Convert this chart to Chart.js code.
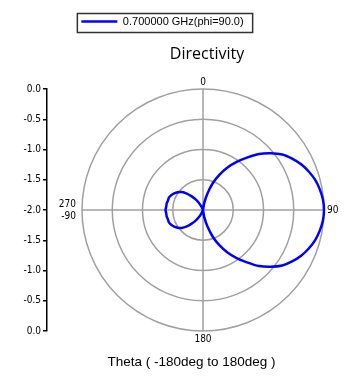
<!DOCTYPE html>
<html lang="es">
<head>
<meta charset="utf-8">
<title>Directivity</title>
<script src="https://cdn.jsdelivr.net/npm/chart.js@4.4.1/dist/chart.umd.min.js"></script>
<style>
  html, body { margin: 0; padding: 0; background: #ffffff; }
  canvas { display: block; }
</style>
</head>
<body>
<canvas id="verPatron" width="359" height="380"></canvas>
<script>
// Ángulos theta en grados (0 arriba, sentido horario)
const thetaGrados = [
    0, 5, 10, 15, 20, 25, 30, 35, 40, 45, 50, 55, 60, 65, 70, 75, 80, 85,
    90, 95, 100, 105, 110, 115, 120, 125, 130, 135, 140, 145, 150, 155, 160, 165, 170, 175,
    180, 185, 190, 195, 200, 205, 210, 215, 220, 225, 230, 235, 240, 245, 250, 255, 260, 265,
    270, 275, 280, 285, 290, 295, 300, 305, 310, 315, 320, 325, 330, 335, 340, 345, 350, 355
];

// Directividad (-2.0 en el centro, 0.0 en el borde)
const directividad = [
    -2.00, -2.00, -1.88, -1.72, -1.53, -1.36, -1.19, -1.03, -0.87, -0.69, -0.54, -0.40, -0.30, -0.21, -0.14, -0.08, -0.04, -0.01,
    0.00, -0.01, -0.04, -0.08, -0.14, -0.21, -0.30, -0.40, -0.54, -0.69, -0.87, -1.03, -1.19, -1.36, -1.53, -1.72, -1.88, -2.00,
    -2.00, -2.00, -2.00, -2.00, -2.00, -1.94, -1.86, -1.78, -1.70, -1.61, -1.54, -1.49, -1.45, -1.42, -1.40, -1.40, -1.39, -1.39,
    -1.38, -1.39, -1.39, -1.40, -1.40, -1.42, -1.45, -1.49, -1.54, -1.61, -1.70, -1.78, -1.86, -1.94, -2.00, -2.00, -2.00, -2.00
];

const etiquetaSerie = '0.700000 GHz(phi=90.0)';
const tituloGrafica = 'Directivity';
const textoEje = 'Theta ( -180deg to 180deg )';

// Rótulos de ángulo que se muestran alrededor del círculo
const etiquetasAngulo = { 0: ['0'], 90: ['90'], 180: ['180'], 270: ['270', '-90'] };

// Anillos de la escala radial
const marcasRadiales = [-2.0, -1.5, -1.0, -0.5, 0.0];

const fuenteEjes = "'DejaVu Sans Condensed', 'DejaVu Sans', sans-serif";
const fuenteTexto = "'Liberation Sans', Arial, sans-serif";
const grisRejilla = '#a0a0a0';

// Separación de cada rótulo de ángulo respecto al círculo exterior
const separacionRotulo = { 0: 1, 90: 3, 180: 2.5, 270: 6 };

// Mueve cajas del layout y alinea el eje izquierdo con el círculo polar
const ajustarCajas = {
    id: 'ajustarCajas',
    afterLayout(chart, args, opts) {
        const mover = (caja, dx) => {
            if (!caja || !dx) return;
            caja.left += dx;
            caja.right += dx;
        };
        mover(chart.legend, opts.leyenda);
        mover(chart.titleBlock, opts.titulo);
        mover(chart.boxes.find(b => b.options && b.options.text === textoEje), opts.subtitulo);

        const r = chart.scales.r;
        const y = chart.scales.y;
        y.top = r.yCenter - r.drawingArea;
        y.bottom = r.yCenter + r.drawingArea;
        y.height = y.bottom - y.top;
        y.configure();
    },
    afterDraw(chart, args, opts) {
        // Marco alrededor de la leyenda
        const caja = chart.legend && chart.legend.legendHitBoxes[0];
        if (!caja) return;
        const ctx = chart.ctx;
        ctx.save();
        ctx.strokeStyle = opts.colorMarco;
        ctx.lineWidth = 1.5;
        ctx.strokeRect(caja.left - 4, caja.top - 2.5, caja.width + 13, caja.height + 8);
        ctx.restore();
    }
};

const ctx = document.getElementById('verPatron').getContext('2d');

const chart = new Chart(ctx, {
    type: 'radar',
    data: {
        labels: thetaGrados,
        datasets: [{
            label: etiquetaSerie,
            data: directividad,
            borderColor: '#0000ff',
            borderWidth: 2.5,
            pointRadius: 0,
            pointHoverRadius: 0,
            pointStyle: 'line',
            fill: false,
            tension: 0.2
        }]
    },
    options: {
        responsive: false,
        animation: false,
        devicePixelRatio: 1,
        events: [],
        plugins: {
            legend: {
                position: 'top',
                weight: 3000,
                labels: {
                    usePointStyle: true,
                    pointStyle: 'line',
                    pointStyleWidth: 36,
                    padding: 16,
                    color: '#000000',
                    font: { family: fuenteTexto, size: 11 }
                }
            },
            title: {
                display: true,
                text: tituloGrafica,
                fullSize: false,
                color: '#000000',
                font: { family: "'Open Sans', sans-serif", size: 16, weight: 'normal' },
                padding: { top: 8, bottom: 11.8 }
            },
            subtitle: {
                display: true,
                text: textoEje,
                position: 'bottom',
                color: '#000000',
                font: { family: fuenteTexto, size: 13.5 },
                padding: { top: 8.9, bottom: 9.4 }
            },
            tooltip: { enabled: false },
            ajustarCajas: {
                leyenda: -17,
                titulo: 4,
                subtitulo: 12,
                colorMarco: '#333333'
            }
        },
        scales: {
            r: {
                min: marcasRadiales[0],
                max: marcasRadiales[marcasRadiales.length - 1],
                ticks: { display: false, stepSize: marcasRadiales[1] - marcasRadiales[0] },
                grid: { circular: true, color: grisRejilla, lineWidth: 1.5 },
                angleLines: {
                    lineWidth: 1.5,
                    color: c => (etiquetasAngulo[thetaGrados[c.index]] ? grisRejilla : 'rgba(0,0,0,0)')
                },
                pointLabels: {
                    padding: c => separacionRotulo[thetaGrados[c.index]] ?? 1,
                    color: '#000000',
                    font: { family: fuenteEjes, size: 10 },
                    callback: valor => etiquetasAngulo[valor] || ''
                }
            },
            y: {
                type: 'linear',
                position: 'left',
                min: marcasRadiales[0] - marcasRadiales[marcasRadiales.length - 1],
                max: marcasRadiales[marcasRadiales.length - 1] - marcasRadiales[0],
                afterFit: escala => { escala.width = 47; },
                ticks: {
                    stepSize: marcasRadiales[1] - marcasRadiales[0],
                    padding: 2,
                    color: '#000000',
                    font: { family: fuenteEjes, size: 10 },
                    callback: v => (Math.abs(v) + marcasRadiales[0]).toFixed(1)
                },
                grid: { drawOnChartArea: false, tickLength: 4, color: '#000000', lineWidth: 1.5 },
                border: { color: '#000000', width: 1.5 }
            }
        }
    },
    plugins: [ajustarCajas]
});
</script>
</body>
</html>
